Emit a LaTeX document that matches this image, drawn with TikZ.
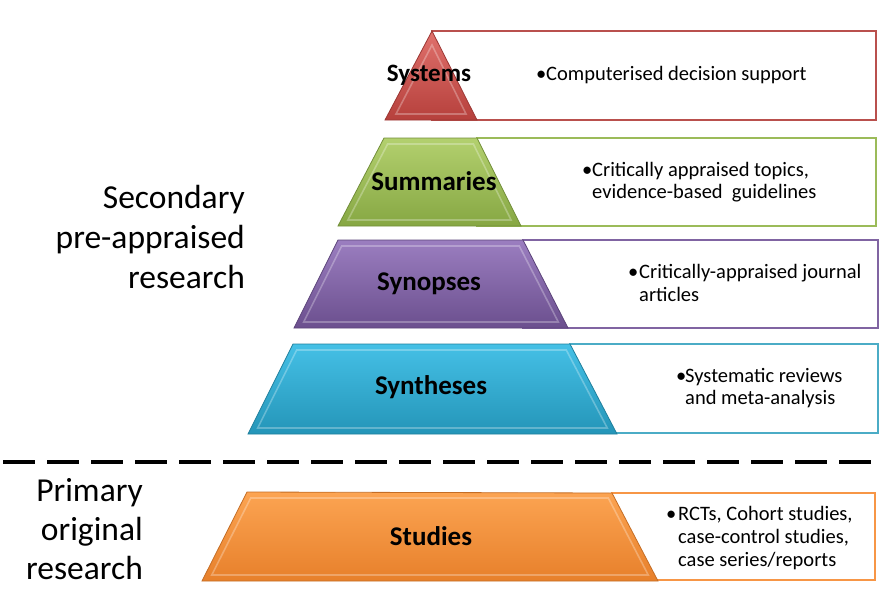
\documentclass[tikz,border=0pt]{standalone}
\usepackage{fontspec}
\setmainfont{Carlito}
\definecolor{rTop}{HTML}{E0716C}\definecolor{rBot}{HTML}{B6403C}\definecolor{rLine}{HTML}{B9504D}
\definecolor{gTop}{HTML}{B3D06E}\definecolor{gBot}{HTML}{86A743}\definecolor{gLine}{HTML}{9BBB59}
\definecolor{pTop}{HTML}{9B7EC0}\definecolor{pBot}{HTML}{6B4F8E}\definecolor{pLine}{HTML}{8064A2}
\definecolor{aTop}{HTML}{45C0E6}\definecolor{aBot}{HTML}{2495B8}\definecolor{aLine}{HTML}{4BACC6}
\definecolor{oTop}{HTML}{FCA452}\definecolor{oBot}{HTML}{E7802B}\definecolor{oLine}{HTML}{F79646}
\begin{document}
\begin{tikzpicture}[x=1pt,y=-1pt,
  descbox/.style={draw=#1,line width=2.6pt,fill=white},
  tier/.style 2 args={top color=#1,bottom color=#2,draw=#2!85!black,line width=0.8pt},
  bevel/.style={draw=white,draw opacity=0.28,line width=1.6pt},
  tierlabel/.style={font=\fontsize{27}{30}\selectfont\bfseries,text=black,inner sep=0pt},
  desc/.style={font=\fontsize{20.5}{23}\selectfont,anchor=base west,inner sep=0pt,text=black},
  side/.style={font=\fontsize{33.5}{40}\selectfont,anchor=base east,inner sep=0pt,text=black}]
\useasboundingbox (0,0) rectangle (884,611);
\newcommand\tierbevel[6]{%
  \pgfmathsetmacro\sl{(#1-#4)/(#6-#3)}%
  \pgfmathsetmacro\hh{6*sqrt(1+\sl*\sl)}%
  \draw[bevel] ({#1-\sl*6+\hh},{#3+6}) -- ({#2+\sl*6-\hh},{#3+6}) -- ({#5-\sl*6-\hh},{#6-6}) -- ({#4+\sl*6+\hh},{#6-6}) -- cycle;}
% boxes
\draw[descbox=rLine] (432,31) rectangle (876,120);
\draw[descbox=gLine] (477,138) rectangle (876,226);
\draw[descbox=pLine] (523,240) rectangle (878,328);
\draw[descbox=aLine] (570,344) rectangle (878,433);
\draw[descbox=oLine] (612,493) rectangle (875,580);
% tiers
\draw[tier={rTop}{rBot}] (432,31) -- (477,120) -- (385,120) -- cycle;
\draw[bevel] (432,45) -- (466,114) -- (396,114) -- cycle;
\draw[tier={gTop}{gBot}] (384,138) -- (477,138) -- (521,226) -- (338,226) -- cycle;
\tierbevel{384}{477}{138}{338}{521}{226}
\draw[tier={pTop}{pBot}] (338,240) -- (523,240) -- (568,328) -- (294,328) -- cycle;
\tierbevel{338}{523}{240}{294}{568}{328}
\draw[tier={aTop}{aBot}] (293,344) -- (570,344) -- (617,434) -- (248,434) -- cycle;
\tierbevel{293}{570}{344}{248}{617}{434}
\draw[tier={oTop}{oBot}] (247,492) -- (612,493) -- (658,581) -- (202,581) -- cycle;
\tierbevel{247}{612}{492}{202}{658}{581}
% tier labels
\node[tierlabel,font=\fontsize{25}{28}\selectfont\bfseries] (systems) at (429,75) {Systems};
\node[tierlabel] (summaries) at (434,181) {Summaries};
\node[tierlabel] (synopses) at (429,284) {Synopses};
\node[tierlabel] (syntheses) at (431,387) {Syntheses};
\node[tierlabel] (studies) at (431,536) {Studies};
% descriptions
\node[desc] (b1) at (536,80) {•};
\node[desc] (d1) at (546,80) {Computerised decision support};
\node[desc] (b2) at (582,176) {•};
\node[desc] (d2a) at (592,176) {Critically appraised topics,};
\node[desc] (d2b) at (592,198) {evidence-based\ \ guidelines};
\node[desc] (b3) at (628,278) {•};
\node[desc] (d3a) at (639,278) {Critically-appraised journal};
\node[desc] (d3b) at (639,301) {articles};
\node[desc] (b4) at (676,382) {•};
\node[desc] (d4a) at (685,382) {Systematic reviews};
\node[desc] (d4b) at (685,404) {and meta-analysis};
\node[desc] (b5) at (666,520) {•};
\node[desc] (d5a) at (678,520) {RCTs, Cohort studies,};
\node[desc] (d5b) at (678,543) {case-control studies,};
\node[desc] (d5c) at (678,566) {case series/reports};
% side labels
\node[side] (s1) at (245,208) {Secondary};
\node[side] (s2) at (245,248) {pre-appraised};
\node[side] (s3) at (245,288) {research};
\node[side] (p1) at (143,501) {Primary};
\node[side] (p2) at (143,540) {original};
\node[side] (p3) at (143,579) {research};
% divider
\coordinate (dl) at (3,462);
\coordinate (dr) at (872,462);
\draw[line width=4pt,dash pattern=on 32pt off 12pt] (dl) -- (dr);
\end{tikzpicture}
\end{document}
